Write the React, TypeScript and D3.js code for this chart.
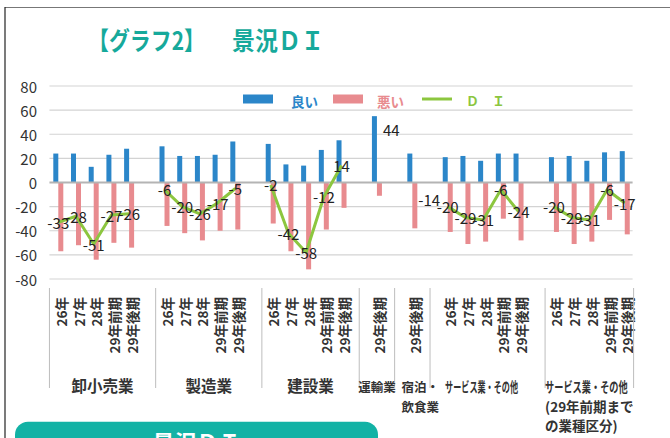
import React, { useEffect, useRef } from 'react';
import * as d3 from 'd3';

// categories
const groups = [
  '卸小売業',
  '製造業',
  '建設業',
  '運輸業',
  '宿泊・\n飲食業',
  'サービス業・その他',
  'サービス業・その他\n(29年前期まで\nの業種区分)',
];
const periods = ['26年', '27年', '28年', '29年前期', '29年後期'];
const groupPeriods = [periods, periods, periods, ['29年後期'], ['29年後期'], periods, periods];

// series values (per group)
const good = [
  [24, 24, 13, 23, 28],
  [30, 22, 22, 23, 34],
  [32, 15, 14, 27, 35],
  [55],
  [24],
  [21, 22, 18, 24, 24],
  [21, 22, 18, 25, 26],
];
const bad = [
  [-57, -52, -64, -50, -54],
  [-36, -42, -48, -40, -39],
  [-34, -57, -72, -39, -21],
  [-11],
  [-38],
  [-41, -51, -49, -30, -48],
  [-41, -51, -49, -31, -43],
];
const di = [
  [-33, -28, -51, -27, -26],
  [-6, -20, -26, -17, -5],
  [-2, -42, -58, -12, 14],
  [44],
  [-14],
  [-20, -29, -31, -6, -24],
  [-20, -29, -31, -6, -17],
];

const yTicks = [80, 60, 40, 20, 0, -20, -40, -60, -80];
const seriesNames = ['良い', '悪い', 'Ｄ　Ｉ'];

const BLUE = '#2b86c9';
const PINK = '#e88b8f';
const GREEN = '#8cc63f';
const TEAL = '#16a99b';
const FONT = "'Noto Sans CJK JP', 'Noto Sans', sans-serif";

// label look per group (font size, squeeze of first line, shift)
const labelStyle = [
  { size: 15.5, squeeze: 1, dx: 0 },
  { size: 15.5, squeeze: 1, dx: 0 },
  { size: 15.5, squeeze: 1, dx: 0 },
  { size: 12.5, squeeze: 1, dx: 0 },
  { size: 12.5, squeeze: 1, dx: 8 },
  { size: 13.5, squeeze: 0.6, dx: -6 },
  { size: 13.5, squeeze: 0.68, dx: 0 },
];

type Slot = { key: string; g: number; i: number | null; label: string };

const App: React.FC = () => {
  const ref = useRef<SVGSVGElement | null>(null);

  useEffect(() => {
    if (!ref.current) return;
    const svg = d3.select(ref.current);
    svg.selectAll('*').remove();

    // one slot per period, plus an empty slot after each group
    const slots: Slot[] = [];
    groups.forEach((_, g) => {
      groupPeriods[g].forEach((p, i) => slots.push({ key: `${g}-${i}`, g, i, label: p }));
      if (g < groups.length - 1) slots.push({ key: `${g}-gap`, g, i: null, label: '' });
    });

    const x = d3.scaleBand<string>().domain(slots.map(s => s.key)).range([49.45, 633.6]).padding(0);
    const y = d3.scaleLinear().domain([-80, 80]).range([279, 86]);
    const sub = d3.scaleBand<string>().domain(['good', 'bad']).range([-5, 5]).padding(0);
    const cx = (g: number, i: number) => (x(`${g}-${i}`) as number) + x.bandwidth() / 2;
    const edge = (n: number) => x.range()[0] + n * x.step();

    // frame
    svg.append('line').attr('x1', 5).attr('x2', 670).attr('y1', 7.5).attr('y2', 7.5)
      .attr('stroke', '#777').attr('stroke-width', 1.2);
    svg.append('line').attr('x1', 5).attr('x2', 5).attr('y1', 7).attr('y2', 438)
      .attr('stroke', '#222').attr('stroke-width', 1.2);

    // title
    svg.append('text').attr('x', 88).attr('y', 50).attr('font-family', FONT).attr('font-size', 25)
      .attr('font-weight', 700).attr('fill', TEAL).attr('textLength', 117)
      .attr('lengthAdjust', 'spacingAndGlyphs').text('【グラフ2】');
    svg.append('text').attr('x', 232).attr('y', 50).attr('font-family', FONT).attr('font-size', 25)
      .attr('font-weight', 700).attr('fill', TEAL).attr('textLength', 92)
      .attr('lengthAdjust', 'spacingAndGlyphs').text('景況ＤＩ');

    // grid + y labels
    const [x0, x1] = x.range();
    svg.append('g').selectAll('line').data(yTicks.filter(t => t !== 0)).enter().append('line')
      .attr('x1', x0).attr('x2', x1 - 1)
      .attr('y1', d => y(d)).attr('y2', d => y(d))
      .attr('stroke', '#d3d3d3').attr('stroke-width', 1.2);
    svg.append('g').selectAll('text').data(yTicks).enter().append('text')
      .attr('x', 37).attr('y', d => y(d)).attr('text-anchor', 'end')
      .attr('dominant-baseline', 'central').attr('font-family', FONT).attr('font-size', 15)
      .attr('fill', '#333').text(d => d);

    // legend
    const lg = svg.append('g').attr('font-family', FONT).attr('font-size', 13.5).attr('font-weight', 700);
    lg.append('rect').attr('x', 243).attr('y', 94.5).attr('width', 30).attr('height', 9).attr('fill', BLUE);
    lg.append('text').attr('x', 291).attr('y', 100.5).attr('dominant-baseline', 'central')
      .attr('fill', BLUE).text(seriesNames[0]);
    lg.append('rect').attr('x', 333).attr('y', 94.5).attr('width', 30).attr('height', 9).attr('fill', PINK);
    lg.append('text').attr('x', 377).attr('y', 100.5).attr('dominant-baseline', 'central')
      .attr('fill', PINK).text(seriesNames[1]);
    lg.append('line').attr('x1', 422).attr('x2', 452).attr('y1', 99).attr('y2', 99)
      .attr('stroke', GREEN).attr('stroke-width', 3);
    lg.append('text').attr('x', 466).attr('y', 100.5).attr('dominant-baseline', 'central')
      .attr('font-size', 13).attr('fill', GREEN).text(seriesNames[2]);

    // bars
    const barData = slots.filter(s => s.i !== null).flatMap(s => [
      { s, key: 'good', v: good[s.g][s.i as number] },
      { s, key: 'bad', v: bad[s.g][s.i as number] },
    ]);
    svg.append('g').selectAll('rect').data(barData).enter().append('rect')
      .attr('x', d => cx(d.s.g, d.s.i as number) + (sub(d.key) as number))
      .attr('width', sub.bandwidth())
      .attr('y', d => y(Math.max(0, d.v)))
      .attr('height', d => Math.abs(y(d.v) - y(0)))
      .attr('fill', d => (d.key === 'good' ? BLUE : PINK));

    // zero line
    svg.append('line').attr('x1', x0).attr('x2', x1 - 1).attr('y1', y(0)).attr('y2', y(0))
      .attr('stroke', '#b4b4b4').attr('stroke-width', 2);

    // DI line, one piece per group
    di.forEach((vals, g) => {
      if (vals.length < 2) return;
      const l = d3.line<number>().x((_, i) => cx(g, i)).y(d => y(d));
      svg.append('path').attr('d', l(vals) as string).attr('fill', 'none')
        .attr('stroke', GREEN).attr('stroke-width', 3).attr('stroke-linejoin', 'round');
    });

    // DI labels (single points get the label on the right)
    di.forEach((vals, g) => {
      vals.forEach((v, i) => {
        const single = vals.length === 1;
        svg.append('text')
          .attr('x', cx(g, i) + (single ? 6 : 0)).attr('y', y(v))
          .attr('text-anchor', single ? 'start' : 'middle').attr('dominant-baseline', 'central')
          .attr('font-family', FONT).attr('font-size', 15).attr('fill', '#222').text(v);
      });
    });

    // period labels (rotated)
    svg.append('g').selectAll('text').data(slots.filter(s => s.i !== null)).enter().append('text')
      .attr('transform', d => `translate(${cx(d.g, d.i as number) + 2.5},297) rotate(-90)`)
      .attr('text-anchor', 'end').attr('dominant-baseline', 'central')
      .attr('font-family', FONT).attr('font-size', 13.5).attr('font-weight', 700)
      .attr('fill', '#333').text(d => d.label);

    // group separators
    const starts = groups.map((_, g) => slots.findIndex(s => s.g === g));
    const isSingle = (g: number) => groupPeriods[g].length === 1;
    const seps = starts.map((st, g) =>
      g === 0 ? st : st - (isSingle(g) || isSingle(g - 1) ? 0.5 : 0));
    seps.push(slots.length);
    svg.append('g').selectAll('line').data(seps).enter().append('line')
      .attr('x1', d => edge(d)).attr('x2', d => edge(d))
      .attr('y1', 288).attr('y2', 388)
      .attr('stroke', '#bdbdbd').attr('stroke-width', 1);

    // group labels
    groups.forEach((name, g) => {
      const st = labelStyle[g];
      const center = (edge(seps[g]) + edge(seps[g + 1])) / 2 + st.dx;
      const lines = name.split('\n');
      const nodes = lines.map((ln, k) =>
        svg.append('text').attr('y', 392 + k * 19.5).attr('font-family', FONT)
          .attr('font-size', st.size).attr('font-weight', 700).attr('fill', '#333').text(ln));
      const widths = nodes.map((n, k) => {
        const w = (n.node() as SVGTextElement).getComputedTextLength();
        return k === 0 ? w * st.squeeze : w;
      });
      const bw = d3.max(widths) as number;
      nodes.forEach((n, k) => {
        n.attr('x', center - bw / 2);
        if (k === 0 && st.squeeze !== 1) {
          n.attr('textLength', widths[0]).attr('lengthAdjust', 'spacingAndGlyphs');
        }
      });
    });

    // bottom tab
    svg.append('rect').attr('x', 15).attr('y', 421.7).attr('width', 363).attr('height', 40)
      .attr('rx', 13).attr('fill', '#12b2a5');
    svg.append('text').attr('x', 196.5).attr('y', 451).attr('text-anchor', 'middle')
      .attr('font-family', FONT).attr('font-size', 22).attr('font-weight', 700)
      .attr('fill', '#fff').text('景況ＤＩ');
  }, []);

  return (
    <svg ref={ref} width={670} height={438}
      style={{ position: 'absolute', left: 0, top: 0, background: '#fff' }} />
  );
};

export default App;
